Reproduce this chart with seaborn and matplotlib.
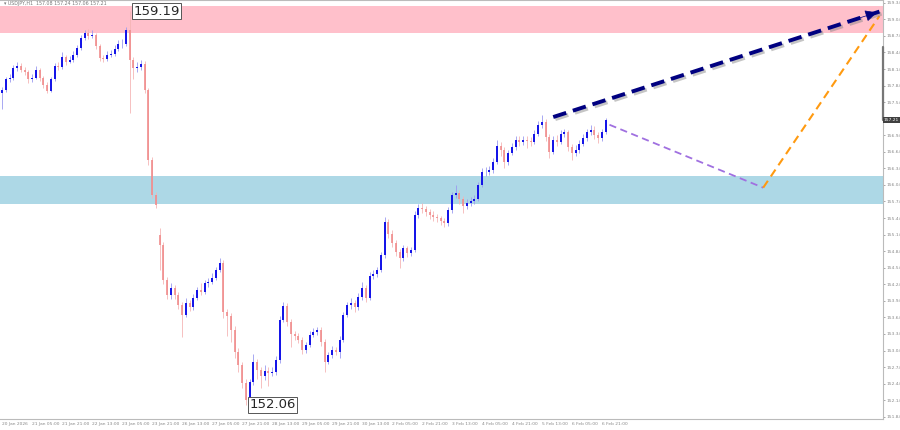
import numpy as np
import pandas as pd
import seaborn as sns
import matplotlib.pyplot as plt
import matplotlib.patheffects as pe
import matplotlib.transforms as mtransforms

sns.set_style("white")
plt.rcParams['font.family'] = ['DejaVu Sans']

# USDJPY H1 at one point every 2 hours (hours since 20 Jan 13:00)
closes = [157.76, 157.95, 157.98, 158.16, 158.20, 158.13, 158.09, 157.95, 157.98, 158.13,
          157.98, 157.85, 157.75, 157.95, 158.20, 158.18, 158.36, 158.27, 158.31, 158.40,
          158.52, 158.71, 158.80, 158.74, 158.76, 158.56, 158.34, 158.33, 158.40, 158.42,
          158.51, 158.60, 158.60, 158.85, 158.31, 158.16, 158.18, 158.23, 157.76, 156.50,
          155.86, 155.68, 154.96, 154.32, 154.05, 154.18, 154.05, 153.87, 153.69, 153.91,
          153.83, 154.00, 154.14, 154.10, 154.27, 154.29, 154.36, 154.50, 154.63, 153.74,
          153.67, 153.42, 153.02, 152.78, 152.46, 152.15, 152.47, 152.84, 152.69, 152.58,
          152.67, 152.64, 152.66, 152.87, 153.60, 153.85, 153.56, 153.34, 153.31, 153.24,
          153.05, 153.14, 153.33, 153.38, 153.42, 153.20, 152.84, 152.96, 153.05, 153.02,
          153.24, 153.69, 153.87, 153.91, 153.83, 154.01, 154.18, 154.00, 154.39, 154.43,
          154.50, 154.77, 155.37, 155.16, 154.99, 154.83, 154.72, 154.90, 154.81, 154.87,
          155.50, 155.63, 155.61, 155.55, 155.50, 155.46, 155.44, 155.39, 155.35, 155.59,
          155.86, 155.90, 155.79, 155.66, 155.72, 155.75, 155.79, 156.04, 156.28, 156.28,
          156.31, 156.46, 156.75, 156.68, 156.46, 156.62, 156.73, 156.86, 156.82, 156.86,
          156.84, 156.82, 156.97, 157.13, 157.18, 156.91, 156.64, 156.86, 156.82, 156.97,
          156.99, 156.73, 156.62, 156.68, 156.79, 156.89, 157.00, 157.04, 156.95, 156.89,
          157.00, 157.21]
highs = [157.82, 158.00, 158.05, 158.22, 158.26, 158.24, 158.17, 158.12, 158.05, 158.19,
         158.16, 158.02, 157.90, 158.00, 158.24, 158.27, 158.44, 158.40, 158.37, 158.46,
         158.58, 158.76, 158.85, 158.86, 158.84, 158.80, 158.60, 158.40, 158.46, 158.49,
         158.58, 158.66, 158.68, 158.90, 159.19, 158.36, 158.26, 158.30, 158.28, 157.80,
         156.55, 155.92, 155.26, 155.00, 154.38, 154.26, 154.22, 154.10, 153.92, 154.00,
         153.96, 154.06, 154.20, 154.26, 154.32, 154.36, 154.44, 154.56, 154.72, 154.68,
         153.80, 153.72, 153.48, 153.08, 152.84, 152.52, 152.52, 152.98, 152.88, 152.74,
         152.78, 152.75, 152.74, 152.94, 153.66, 153.92, 153.90, 153.62, 153.40, 153.36,
         153.28, 153.20, 153.40, 153.44, 153.47, 153.46, 153.25, 153.02, 153.12, 153.10,
         153.30, 153.74, 153.92, 154.00, 153.96, 154.08, 154.29, 154.22, 154.46, 154.50,
         154.56, 154.82, 155.46, 155.42, 155.22, 155.04, 154.88, 154.96, 154.94, 154.92,
         155.56, 155.70, 155.72, 155.66, 155.60, 155.56, 155.52, 155.48, 155.44, 155.64,
         155.92, 156.04, 155.94, 155.84, 155.78, 155.82, 155.86, 156.10, 156.34, 156.36,
         156.38, 156.52, 156.86, 156.82, 156.72, 156.68, 156.80, 156.92, 156.92, 156.93,
         156.92, 156.90, 157.04, 157.20, 157.31, 157.24, 156.96, 156.92, 156.94, 157.04,
         157.06, 157.04, 156.78, 156.76, 156.86, 156.96, 157.06, 157.12, 157.10, 157.00,
         157.06, 157.26]
lows = [157.42, 157.72, 157.90, 157.94, 158.10, 158.08, 158.03, 157.88, 157.90, 157.95,
        157.92, 157.80, 157.70, 157.72, 157.92, 158.12, 158.14, 158.22, 158.24, 158.27,
        158.36, 158.48, 158.67, 158.68, 158.70, 158.50, 158.29, 158.26, 158.29, 158.35,
        158.38, 158.46, 158.52, 158.55, 157.35, 157.95, 158.08, 158.12, 157.70, 156.40,
        155.80, 155.63, 154.50, 154.24, 153.98, 153.98, 153.98, 153.80, 153.29, 153.64,
        153.76, 153.78, 153.95, 154.04, 154.06, 154.20, 154.24, 154.32, 154.46, 153.63,
        153.30, 153.20, 152.90, 152.66, 152.36, 152.06, 152.10, 152.42, 152.52, 152.36,
        152.50, 152.40, 152.58, 152.60, 152.82, 153.55, 153.48, 153.10, 153.24, 153.17,
        152.98, 153.00, 153.10, 153.28, 153.32, 153.12, 152.66, 152.80, 152.90, 152.96,
        152.91, 153.20, 153.64, 153.80, 153.74, 153.78, 153.96, 153.92, 153.96, 154.34,
        154.38, 154.46, 154.72, 155.08, 154.92, 154.76, 154.54, 154.66, 154.74, 154.76,
        154.82, 155.44, 155.54, 155.48, 155.42, 155.38, 155.36, 155.32, 155.28, 155.30,
        155.54, 155.80, 155.70, 155.54, 155.60, 155.66, 155.70, 155.74, 156.00, 156.20,
        156.22, 156.26, 156.42, 156.56, 156.35, 156.40, 156.58, 156.68, 156.74, 156.76,
        156.70, 156.74, 156.78, 156.92, 157.08, 156.84, 156.53, 156.60, 156.74, 156.78,
        156.90, 156.66, 156.50, 156.56, 156.62, 156.74, 156.84, 156.94, 156.88, 156.80,
        156.84, 156.96]
first_open = 157.70
monday_gap_index = 42
monday_open = 155.14

date_labels = ['20 Jan 2026', '21 Jan 05:00', '21 Jan 21:00', '22 Jan 13:00', '23 Jan 05:00',
               '23 Jan 21:00', '26 Jan 13:00', '27 Jan 05:00', '27 Jan 21:00', '28 Jan 13:00',
               '29 Jan 05:00', '29 Jan 21:00', '30 Jan 13:00', '2 Feb 05:00', '2 Feb 21:00',
               '3 Feb 13:00', '4 Feb 05:00', '4 Feb 21:00', '5 Feb 13:00', '6 Feb 05:00',
               '6 Feb 21:00']

# zones and forecast waves
resistance_zone = [158.80, 159.29]
support_zone = [155.70, 156.21]
main_wave_x = [294, 468]
main_wave_y = [157.27, 159.18]
pullback_x = [324, 406]
pullback_y = [157.13, 155.99]
rebound_x = [406, 468]
rebound_y = [155.99, 159.10]
swing_high = 159.19
swing_low = 152.06
last_price = 157.21

# build OHLC table
opens = [first_open] + closes[:-1]
opens[monday_gap_index] = monday_open
df = pd.DataFrame({'open': opens, 'high': highs, 'low': lows, 'close': closes})
df['hour'] = np.arange(len(df)) * 2
df['up'] = df['close'] >= df['open']

fig = plt.figure(figsize=(9, 4.3), dpi=100)
ax = fig.add_axes([0, 11 / 430, 883 / 900, 419 / 430])

ax.axhspan(*resistance_zone, color='#ffc0cb', lw=0, zorder=0)
ax.axhspan(*support_zone, color='#add8e6', lw=0, zorder=0)

up = df[df['up']]
dn = df[~df['up']]
ax.vlines(dn['hour'], dn['low'], dn['high'], color='#f5b5b5', lw=0.6, zorder=2)
ax.vlines(dn['hour'], dn[['open', 'close']].min(axis=1), dn[['open', 'close']].max(axis=1),
          color='#f08c8c', lw=1.2, zorder=2)
ax.vlines(up['hour'], up['low'], up['high'], color='#9a9af0', lw=0.6, zorder=3)
ax.vlines(up['hour'], up[['open', 'close']].min(axis=1), up[['open', 'close']].max(axis=1),
          color='#1010e8', lw=1.4, zorder=3)

shadow = [pe.SimpleLineShadow(offset=(1.5, -1.5), shadow_color='gray', alpha=0.45), pe.Normal()]

sns.lineplot(x=pullback_x, y=pullback_y, ax=ax, color='#a070e0', lw=1.3,
             linestyle=(0, (4, 2.5)), sort=False, zorder=4)
sns.lineplot(x=rebound_x, y=rebound_y, ax=ax, color='#ff9a10', lw=1.5,
             linestyle=(0, (4, 2.5)), sort=False, zorder=4)
sns.lineplot(x=main_wave_x, y=main_wave_y, ax=ax, color='#000080', lw=2.8,
             linestyle=(0, (3.5, 1.8)), sort=False, zorder=5, path_effects=shadow)
ax.annotate('', xy=(main_wave_x[1], main_wave_y[1]),
            xytext=(main_wave_x[1] - 12, main_wave_y[1] - 0.13),
            arrowprops=dict(arrowstyle='-|>', color='#000080', lw=0.5, mutation_scale=18),
            zorder=6)

# swing labels
box = dict(boxstyle='square,pad=0.12', fc='white', ec='#555555', lw=0.7)
ax.text(70, swing_high, f'{swing_high:.2f}', fontsize=9.5, ha='left', va='center', bbox=box, zorder=7)
ax.text(132, swing_low, f'{swing_low:.2f}', fontsize=9.5, ha='left', va='center', bbox=box, zorder=7)

ax.text(0.004, 0.997, '\u25be USDJPY,H1  157.08 157.24 157.06 157.21', transform=ax.transAxes,
        fontsize=3.4, color='#777777', ha='left', va='top')

ax.set_xlim(-1.1, 469.9)
ax.set_ylim(151.80, 159.39)

ax.set_xticks(np.arange(len(date_labels)) * 16)
ax.set_xticklabels(date_labels, ha='left')
ax.yaxis.tick_right()
# the current price box hides the scale label next to it
yticks = np.round(np.arange(151.84, 159.35, 0.30), 2)
ax.set_yticks([t for t in yticks if abs(t - last_price) > 0.1])
ax.yaxis.set_major_formatter(plt.FuncFormatter(lambda v, p: f'{v:.2f}'))
ax.tick_params(axis='both', labelsize=3.2, colors='#888888', length=1.5, width=0.5, pad=1)
ax.tick_params(axis='x', pad=0.8)
for s in ax.spines.values():
    s.set_color('#bbbbbb')
    s.set_linewidth(0.8)
ax.spines['left'].set_visible(False)

# price scale marker and current price box
trans = mtransforms.blended_transform_factory(ax.transAxes, ax.transData)
ax.plot([1.0, 1.0], [last_price, 158.54], transform=trans, color='#777777', lw=1.6,
        clip_on=False, zorder=8)
ax.text(1.001, last_price, f'{last_price:.2f}', transform=trans, fontsize=3.2, color='white',
        ha='left', va='center', bbox=dict(boxstyle='square,pad=0.2', fc='#404040', ec='none'),
        clip_on=False, zorder=9)

fig.savefig('out.png', dpi=100)
